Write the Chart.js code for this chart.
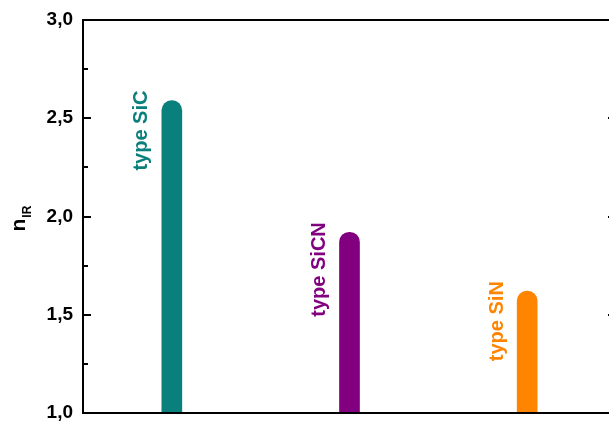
<!DOCTYPE html>
<html>
<head>
<meta charset="utf-8">
<script src="https://cdn.jsdelivr.net/npm/chart.js@4.4.1/dist/chart.umd.min.js"></script>
<style>
  html, body { margin: 0; padding: 0; overflow: hidden; background: #fff; }
</style>
</head>
<body>
<canvas id="chart" width="622" height="425"></canvas>
<script>
// ══════════════════════════════
//  DATA
// ══════════════════════════════
const categories = ['type SiC', 'type SiCN', 'type SiN'];
const nIR = [2.59, 1.92, 1.62];
const barColors = ['#0a807c', '#82007f', '#ff8400'];
const yTicks = [1.0, 1.5, 2.0, 2.5, 3.0];
const yTickLabels = ['1,0', '1,5', '2,0', '2,5', '3,0'];
const yMinorTicks = [1.25, 1.75, 2.25, 2.75];

const FONT = '"Liberation Sans", Arial, sans-serif';
Chart.defaults.font.family = FONT;

// Plugin: moldura + ticks para dentro (esquerda e direita)
const framePlugin = {
  id: 'frame',
  afterDatasetsDraw(chart) {
    const { ctx, chartArea: a, scales } = chart;
    const y = scales.y;
    ctx.save();
    ctx.strokeStyle = '#000';
    ctx.lineWidth = 2;
    ctx.strokeRect(a.left, a.top, a.right - a.left, a.bottom - a.top);
    ctx.beginPath();
    yTicks.forEach(v => {
      const py = Math.round(y.getPixelForValue(v));
      ctx.moveTo(a.left, py); ctx.lineTo(a.left + 8, py);
      ctx.moveTo(a.right, py); ctx.lineTo(a.right - 8, py);
    });
    yMinorTicks.forEach(v => {
      const py = Math.round(y.getPixelForValue(v));
      ctx.moveTo(a.left, py); ctx.lineTo(a.left + 5, py);
      ctx.moveTo(a.right, py); ctx.lineTo(a.right - 5, py);
    });
    ctx.stroke();
    ctx.restore();
  }
};

// Plugin: rótulos verticais ao lado das barras
const labelPlugin = {
  id: 'barLabels',
  afterDatasetsDraw(chart) {
    const ctx = chart.ctx;
    const meta = chart.getDatasetMeta(0);
    ctx.save();
    ctx.font = 'bold 20px ' + FONT;
    ctx.textAlign = 'right';
    ctx.textBaseline = 'middle';
    meta.data.forEach((bar, i) => {
      ctx.save();
      ctx.translate(bar.x - 30, bar.y - 10);
      ctx.rotate(-Math.PI / 2);
      ctx.fillStyle = barColors[i];
      ctx.fillText(categories[i], 0, 0);
      ctx.restore();
    });
    ctx.restore();
  }
};

// Plugin: título do eixo y (n com subscrito IR)
const titlePlugin = {
  id: 'yTitle',
  afterDraw(chart) {
    const { ctx, chartArea: a } = chart;
    const cy = (a.top + a.bottom) / 2;
    ctx.save();
    ctx.translate(25, cy + 15);
    ctx.rotate(-Math.PI / 2);
    ctx.fillStyle = '#000';
    ctx.textAlign = 'left';
    ctx.textBaseline = 'alphabetic';
    ctx.font = 'bold 21px ' + FONT;
    ctx.fillText('n', 0, 0);
    const w = ctx.measureText('n').width;
    ctx.font = 'bold 12px ' + FONT;
    ctx.fillText('IR', w + 1, 6);
    ctx.restore();
  }
};

new Chart(document.getElementById('chart'), {
  type: 'bar',
  plugins: [framePlugin, labelPlugin, titlePlugin],
  data: {
    labels: categories,
    datasets: [{
      data: nIR,
      backgroundColor: barColors,
      barThickness: 20,
      borderRadius: 10,
      borderSkipped: 'start',
    }],
  },
  options: {
    responsive: false,
    animation: false,
    layout: { padding: { top: 20, right: 6, left: 0, bottom: 12 } },
    plugins: {
      legend: { display: false },
      tooltip: { enabled: false },
    },
    scales: {
      x: {
        display: false,
      },
      y: {
        min: 1,
        max: 3,
        ticks: {
          stepSize: 0.5,
          padding: 10,
          color: '#000',
          font: { size: 19, weight: 'bold' },
          callback: (v) => yTickLabels[yTicks.indexOf(v)],
        },
        grid: { display: false, drawTicks: false },
        border: { display: false },
        afterFit: (s) => {
          s.width = 83;
          s.paddingTop = 0;
          s.paddingBottom = 0;
        },
      },
    },
  },
});
</script>
</body>
</html>
